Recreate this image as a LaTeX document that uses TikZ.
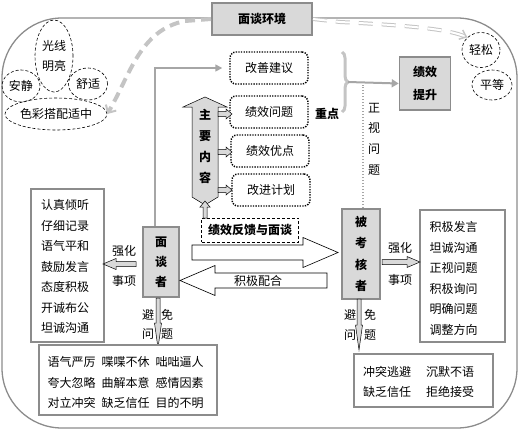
\documentclass[tikz,border=0pt]{standalone}
\usepackage{fontspec}
\setmainfont{Noto Sans CJK SC}
\usetikzlibrary{arrows.meta,decorations.pathreplacing,shapes.geometric,calc}
\definecolor{boxfill}{HTML}{D9D9D9}
\definecolor{edge}{HTML}{8C8C8C}
\definecolor{conn}{HTML}{A6A6A6}
\definecolor{lite}{HTML}{C4C4C4}
\newcommand\hblk[7]{% style, tail x, tip x, y, shaft half, head half, head length
  \pgfmathsetmacro\hbx{#3-((#3>#2)?1:-1)*#7}
  \draw[#1] (#2,#4-#5) -- (\hbx,#4-#5) -- (\hbx,#4-#6) -- (#3,#4) -- (\hbx,#4+#6) -- (\hbx,#4+#5) -- (#2,#4+#5) -- cycle;}
\newcommand\vblk[7]{% style, x, tail y, tip y, shaft half, head half, head length
  \pgfmathsetmacro\hby{#4-((#4>#3)?1:-1)*#7}
  \draw[#1] (#2-#5,#3) -- (#2-#5,\hby) -- (#2-#6,\hby) -- (#2,#4) -- (#2+#6,\hby) -- (#2+#5,\hby) -- (#2+#5,#3) -- cycle;}
\tikzset{
  txt/.style={font=\fontsize{12}{20.5}\selectfont, inner sep=0pt, align=center},
  btxt/.style={font=\bfseries\fontsize{12}{20.5}\selectfont, inner sep=0pt, align=center},
  gbox/.style={draw=edge, line width=1.6pt, fill=boxfill, inner sep=0pt},
  lbox/.style={draw=edge, line width=1.6pt, fill=white, inner sep=0pt},
  dotbox/.style={draw=black, line width=1.4pt, dash pattern=on 1.3pt off 1.3pt, rounded corners=6pt,
     minimum width=78pt, minimum height=32pt, inner sep=0pt, font=\fontsize{12}{14}\selectfont},
  ell/.style={ellipse, draw=black, line width=0.6pt, dash pattern=on 3pt off 2pt, inner sep=0pt,
     align=center, font=\fontsize{12}{20}\selectfont},
  blk/.style={draw=black, line width=0.5pt, fill=boxfill},
  wblk/.style={draw=black, line width=0.6pt, fill=white},
}
\begin{document}
\begin{tikzpicture}[x=1pt,y=-1pt]
\useasboundingbox (0,0) rectangle (522,431);
% outer frame
\draw[edge, line width=1.3pt, rounded corners=60pt] (2,18) rectangle (517,428);
% environment title
\node[gbox, line width=2pt, minimum width=100pt, minimum height=32pt, font=\bfseries\fontsize{12}{14}\selectfont] (env) at (262,19) {面谈环境};
% ellipses
\node[ell, minimum width=38pt, minimum height=72pt] (e1) at (54,56) {光线\\明亮};
\node[ell, minimum width=38pt, minimum height=32pt] (e2) at (21,86) {安静};
\node[ell, minimum width=39pt, minimum height=32pt] (e3) at (88,84) {舒适};
\node[ell, minimum width=102pt, minimum height=32pt] (e4) at (56,114) {色彩搭配适中};
\node[ell, minimum width=38pt, minimum height=35pt] (e5) at (481,50) {轻松};
\node[ell, minimum width=40pt, minimum height=30pt] (e6) at (492,85) {平等};
% environment dashed links
\draw[lite, line width=4pt, dash pattern=on 10pt off 6pt, -{Straight Barb[length=6pt,width=12pt,line width=2pt]}]
  (env.west) -- (185,21) .. controls (140,30) and (130,75) .. (e4.east);
\draw[lite, line width=1pt, double=white, double distance=2pt, dash pattern=on 14pt off 9pt,
  -{Straight Barb[length=6pt,width=10pt,line width=1.5pt]}]
  (env.east) -- (340,22) .. controls (420,26) and (450,30) .. (e5.north west);
% dotted content boxes
\node[dotbox] (b1) at (269,68) {改善建议};
\node[dotbox] (b2) at (269,112) {绩效问题};
\node[dotbox] (b3) at (270,151) {绩效优点};
\node[dotbox] (b4) at (271,190) {改进计划};
\node[btxt] (zd) at (327,114) {重点};
% main content arrow
\draw[blk] (205,97) -- (227,107) -- (218,107) -- (218,197) -- (205,205) -- (192,197) -- (192,107) -- (183,107) -- cycle;
\node[btxt, font=\bfseries\fontsize{12}{21}\selectfont] (mc) at (205,146.5) {主\\要\\内\\容};
\hblk{blk}{218}{232}{114}{2.5}{5}{6}
\hblk{blk}{218}{232}{152}{2.5}{5}{6}
\hblk{blk}{218}{232}{190}{2.5}{5}{6}
% feedback box
\node[draw=black, line width=0.6pt, dash pattern=on 3pt off 2pt, minimum width=97pt, minimum height=24pt,
  inner sep=0pt, font=\bfseries\fontsize{12}{14}\selectfont] (fb) at (250,230) {绩效反馈与面谈};
\vblk{blk}{205}{218}{201}{2}{5}{6}
% people boxes
\node[gbox, minimum width=36pt, minimum height=70pt, font=\bfseries\fontsize{12}{20}\selectfont, align=center] (mz) at (161,262) {面\\谈\\者};
\node[gbox, minimum width=38pt, minimum height=90pt, font=\bfseries\fontsize{12}{21.3}\selectfont, align=center] (bk) at (361,254) {被\\考\\核\\者};
% big white arrows
\hblk{wblk}{192}{338}{252.5}{7.5}{15}{35}
\hblk{wblk}{327}{180}{280.5}{7.5}{15}{35}
\node[txt] (pj) at (258,281) {积极配合};
% interviewer -> improvement suggestion
\draw[conn, line width=1.5pt, shorten >=7pt, -{Triangle[length=7pt,width=7pt]}] ($(mz.north)+(-6,0)$) |- (b1.west);
% result box
\node[gbox, minimum width=51pt, minimum height=53pt, font=\bfseries\fontsize{12}{23}\selectfont, align=center] (jx) at (425,83.5) {绩效\\提升};
\draw[lite, line width=3pt, decorate, decoration={brace, amplitude=6pt}] (342,52) -- (342,112);
\coordinate (bt) at (348,82);
\draw[conn, line width=2pt, -{Triangle[length=7pt,width=8pt]}] (bt) -- (jx.west);
\draw[conn, line width=1.5pt, dash pattern=on 1.5pt off 1.5pt] ($(bk.north)+(2,0)$) -- ($(bt)+(15,3)$);
\node[txt, font=\fontsize{12}{20.7}\selectfont] (zs) at (374,139) {正\\视\\问\\题};
% left list
\node[lbox, minimum width=73pt, minimum height=153pt] (lb) at (67.5,265.5) {};
\node[txt] (lbt) at (65,266.5) {认真倾听\\仔细记录\\语气平和\\鼓励发言\\态度积极\\开诚布公\\坦诚沟通};
\hblk{blk}{136}{103}{264}{2.5}{5.5}{13}
\node[txt] (q1) at (124,251) {强化};
\node[txt] (q2) at (124,281) {事项};
% right list
\node[lbox, minimum width=85pt, minimum height=132pt] (rb) at (462.5,276) {};
\node[txt, font=\fontsize{12}{20.6}\selectfont] (rbt) at (453.5,278.5) {积极发言\\坦诚沟通\\正视问题\\积极询问\\明确问题\\调整方向};
\hblk{blk}{382}{420}{262}{2.5}{5.5}{13}
\node[txt] (q3) at (400,248) {强化};
\node[txt] (q4) at (400,280) {事项};
% avoid arrows
\node[txt] at (148,315) {避};
\node[txt] at (167,315) {免};
\node[txt] at (148,334) {问};
\node[txt] at (167,334) {题};
\vblk{blk}{158}{298}{348}{2}{3.5}{25}
\node[txt] at (350,315) {避};
\node[txt] at (370,315) {免};
\node[txt] at (350,335) {问};
\node[txt] at (370,335) {题};
\vblk{blk}{359}{299}{350}{2}{3.5}{25}
% bottom boxes
\node[lbox, minimum width=178pt, minimum height=70pt] (bl) at (128,380) {};
\node[txt, align=left] (blt) at (125.5,382.5) {语气严厉\hspace{6pt}喋喋不休\hspace{6pt}咄咄逼人\\夸大忽略\hspace{6pt}曲解本意\hspace{6pt}感情因素\\对立冲突\hspace{6pt}缺乏信任\hspace{6pt}目的不明};
\node[lbox, minimum width=139pt, minimum height=53pt] (br) at (423.5,380.5) {};
\node[txt, align=left] (brt) at (418.5,382) {冲突逃避\hspace{15pt}沉默不语\\缺乏信任\hspace{15pt}拒绝接受};
\end{tikzpicture}
\end{document}
